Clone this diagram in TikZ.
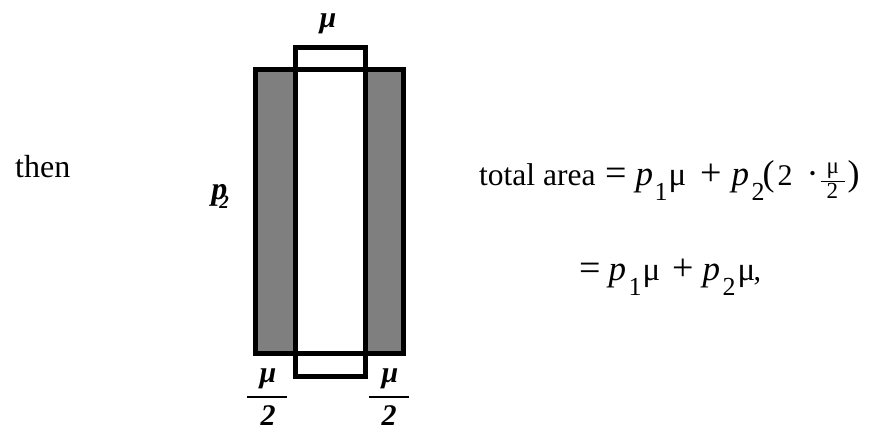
\documentclass[tikz,border=0pt]{standalone}
\usepackage{fontspec}
\setmainfont{Liberation Serif}
\definecolor{barfill}{HTML}{7F7F7F}
\newcommand\fs[1]{\fontsize{#1}{#1}\selectfont}
\newcommand\at[2]{\makebox[0pt][l]{\hspace{#1pt}#2}}
\newcommand\bi[1]{\textbf{\textit{#1}}}
\newcommand\rel[1]{{\fs{38}#1}}
\newcommand\pp{{\fs{35}\textit{p}}}
\newcommand\mm{{\fs{33}μ}}
\newcommand\lsub[1]{\raisebox{-15pt}{\fs{26}#1}}
\begin{document}
\begin{tikzpicture}[x=1pt,y=-1pt,
  lbl/.style={inner sep=0pt,font=\fs{30}},
  eq/.style={inner sep=0pt,anchor=base west,font=\fs{32}},
  frame/.style={line width=5pt,draw=black}]
\useasboundingbox (0,0) rectangle (871,432);
% shapes
\fill[barfill] (255,69) rectangle (403,353);
\fill[white] (295,47.5) rectangle (365,376);
\draw[frame] (255,69) rectangle (403,353);
\draw[frame] (295,47.5) rectangle (365,376);
% labels on the diagram
\node[lbl] (mutop) at (328,24) {\bi{μ}};
\node[lbl] (ptwo) at (220,196) {{\fs{32}\bi{p}}\kern-8pt\raisebox{-9pt}{\fs{19}\bi{2}}};
\node[lbl] (muL) at (268,379) {\bi{μ}};
\node[lbl] (twoL) at (268,416) {\bi{2}};
\draw[line width=2.5pt] (247,397) -- (287,397);
\node[lbl] (muR) at (390,379) {\bi{μ}};
\node[lbl] (twoR) at (389,416) {\bi{2}};
\draw[line width=2.5pt] (369,397) -- (409,397);
% text
\node[eq] (then) at (15,177) {then};
\node[eq,font=\fs{31.5}] (words) at (479,185) {total area};
\node[eq] (line1) at (605,185) {%
\at{0}{\rel{=}}%
\at{30}{\pp}%
\at{49}{\lsub{1}}%
\at{63}{\mm}%
\at{95}{\rel{+}}%
\at{126}{\pp}%
\at{146}{\lsub{2}}%
\at{157}{{\fs{36}(}}%
\at{172}{{\fs{30}2}}%
\at{201}{{\fs{36}·}}%
\at{215}{\raisebox{3pt}{\rule{24pt}{1.2pt}}}%
\at{221}{\raisebox{12pt}{\fs{23}μ}}%
\at{221}{\raisebox{-13pt}{\fs{23}2}}%
\at{242}{{\fs{36})}}%
};
\node[eq] (line2) at (579,280) {%
\at{0}{\rel{=}}%
\at{29}{\pp}%
\at{49}{\lsub{1}}%
\at{63}{\mm}%
\at{93}{\rel{+}}%
\at{123}{\pp}%
\at{143}{\lsub{2}}%
\at{158}{\mm}%
\at{174}{{\fs{30},}}%
};
\end{tikzpicture}
\end{document}
